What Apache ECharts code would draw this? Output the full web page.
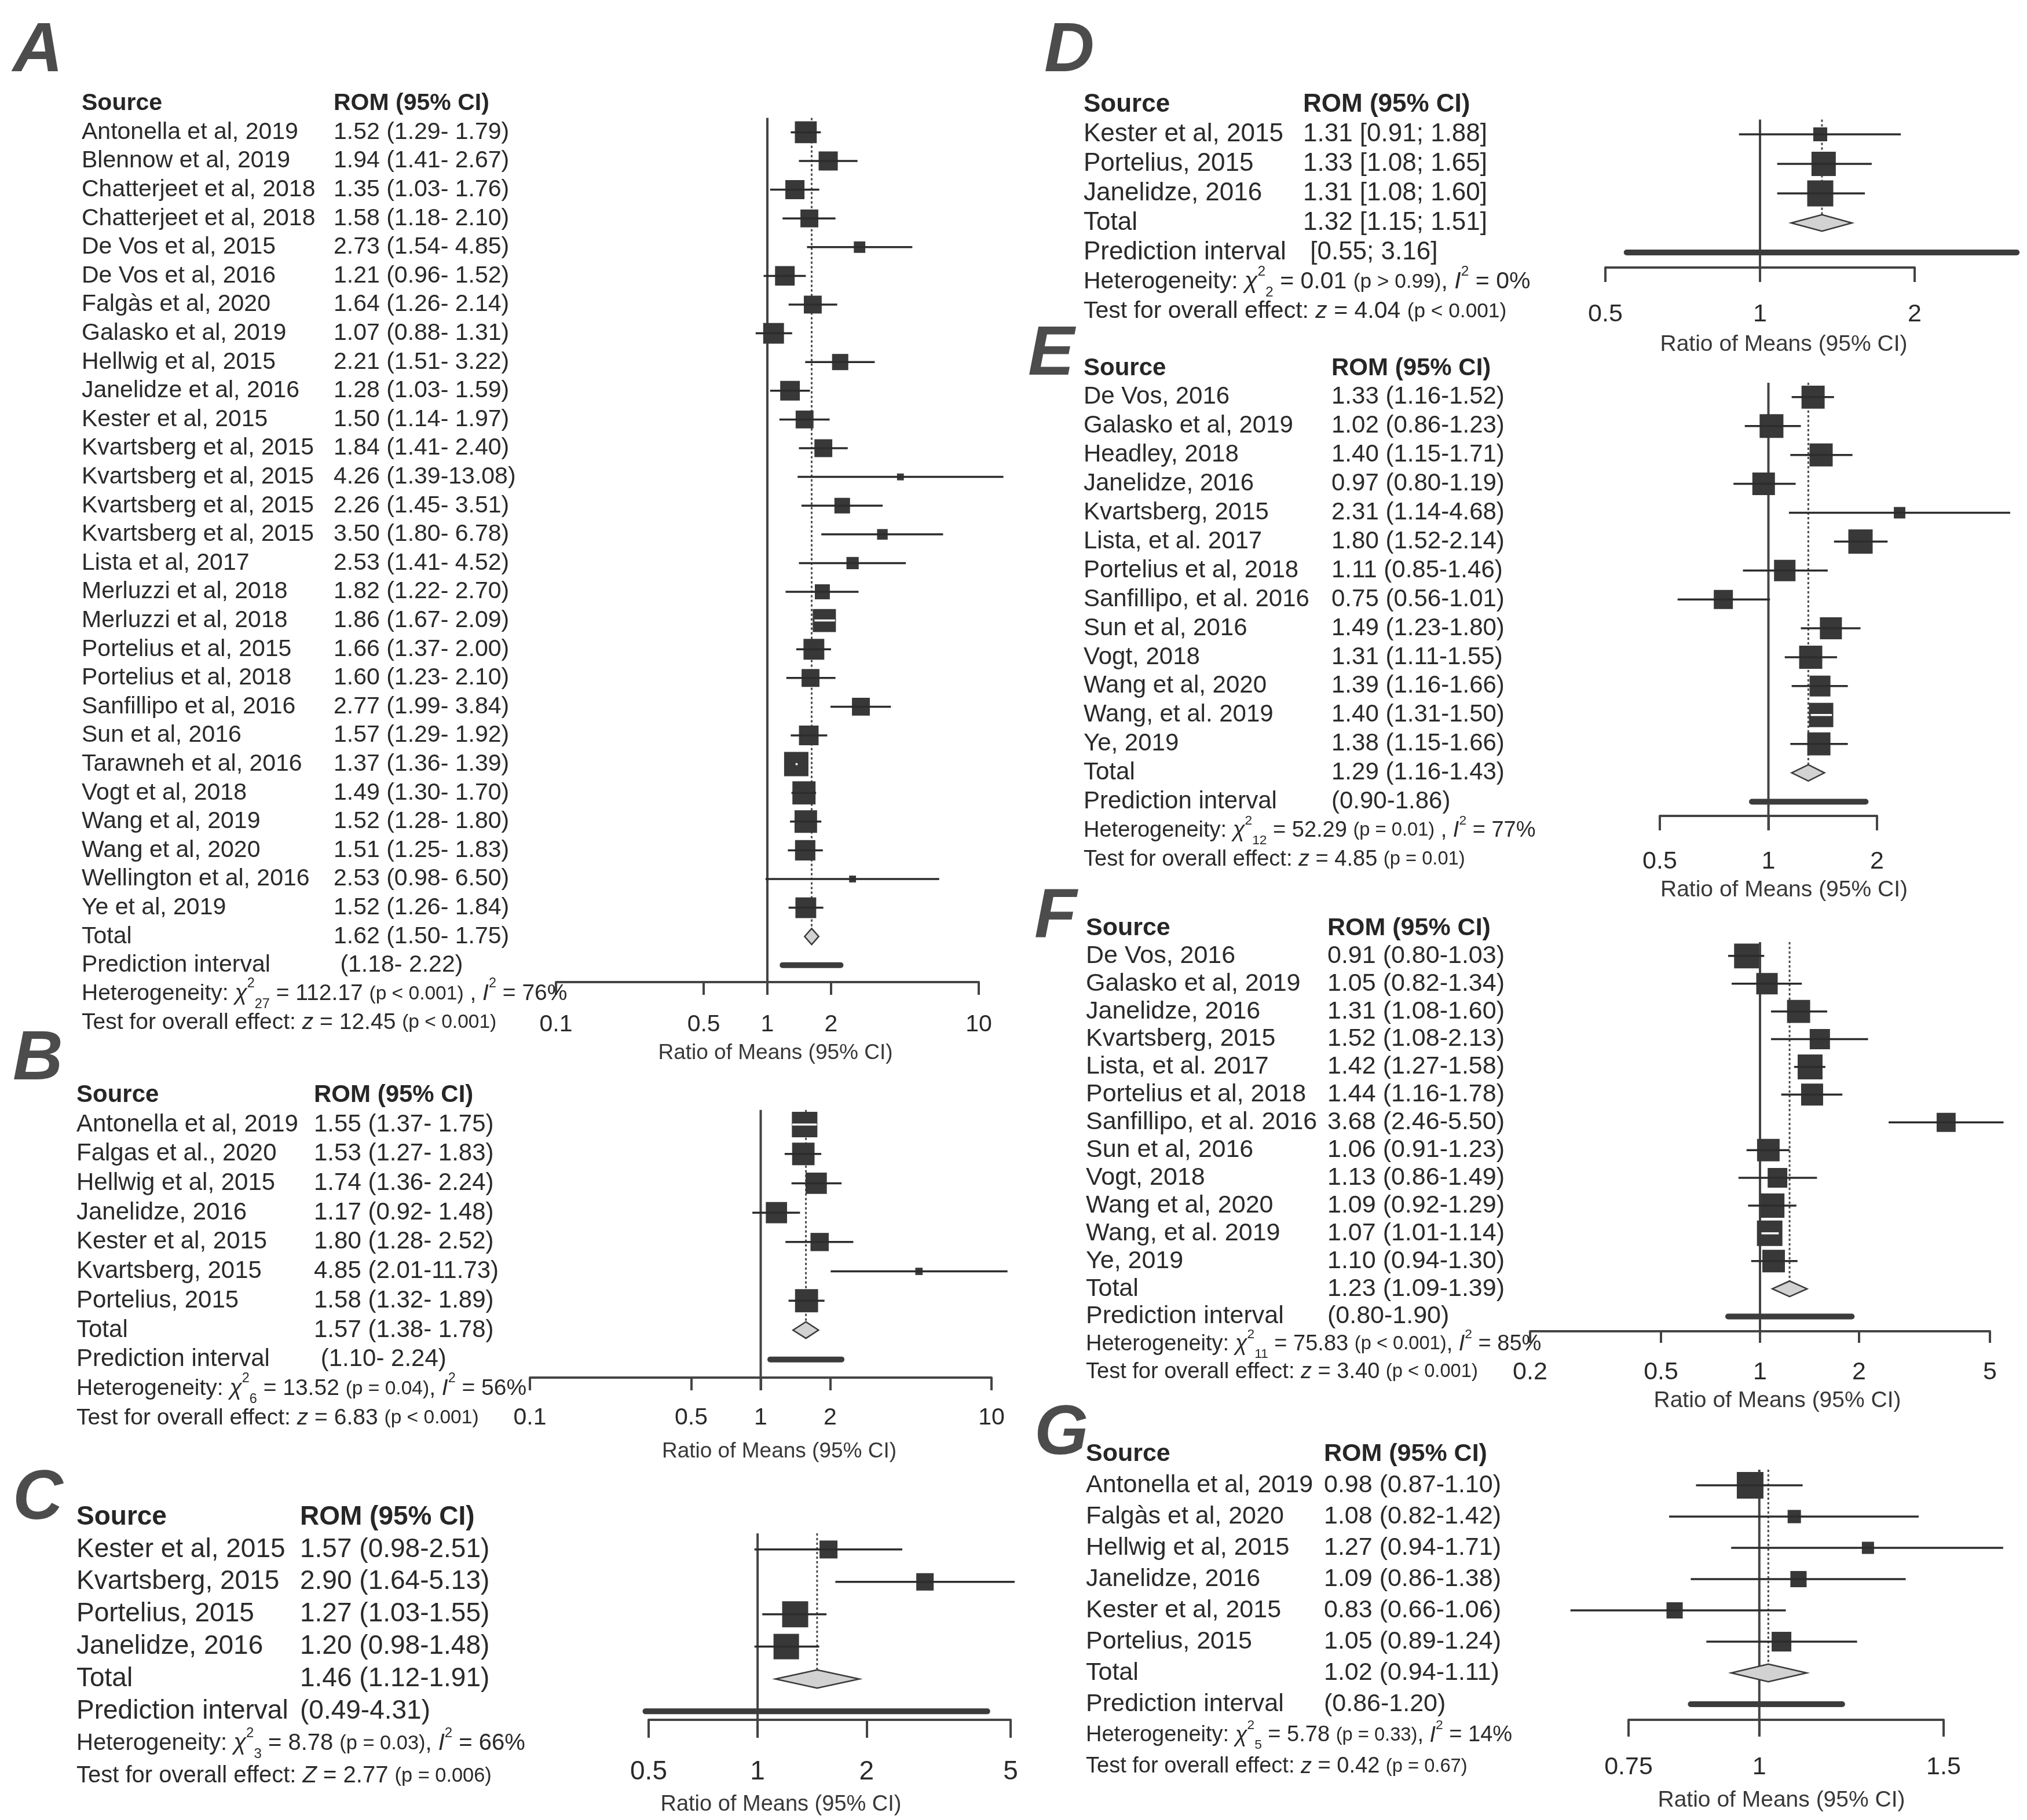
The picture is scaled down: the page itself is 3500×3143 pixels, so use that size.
<!DOCTYPE html>
<html>
<head>
<meta charset="utf-8">
<script src="https://cdn.jsdelivr.net/npm/echarts@6/dist/echarts.min.js"></script>
<style>
html, body { margin: 0; padding: 0; background: #fff; }
#main { width: 3500px; height: 3143px; }
</style>
</head>
<body>
<div id="main"></div>
<script>
// ---- panel A: all studies ----
var aNames = ['Antonella et al, 2019', 'Blennow et al, 2019', 'Chatterjeet et al, 2018', 'Chatterjeet et al, 2018',
  'De Vos et al, 2015', 'De Vos et al, 2016', 'Falgàs et al, 2020', 'Galasko et al, 2019', 'Hellwig et al, 2015',
  'Janelidze et al, 2016', 'Kester et al, 2015', 'Kvartsberg et al, 2015', 'Kvartsberg et al, 2015',
  'Kvartsberg et al, 2015', 'Kvartsberg et al, 2015', 'Lista et al, 2017', 'Merluzzi et al, 2018',
  'Merluzzi et al, 2018', 'Portelius et al, 2015', 'Portelius et al, 2018', 'Sanfillipo et al, 2016',
  'Sun et al, 2016', 'Tarawneh et al, 2016', 'Vogt et al, 2018', 'Wang et al, 2019', 'Wang et al, 2020',
  'Wellington et al, 2016', 'Ye et al, 2019'];
var aEst = [1.52, 1.94, 1.35, 1.58, 2.73, 1.21, 1.64, 1.07, 2.21, 1.28, 1.50, 1.84, 4.26, 2.26, 3.50, 2.53, 1.82, 1.86, 1.66, 1.60, 2.77, 1.57, 1.37, 1.49, 1.52, 1.51, 2.53, 1.52];
var aLo = [1.29, 1.41, 1.03, 1.18, 1.54, 0.96, 1.26, 0.88, 1.51, 1.03, 1.14, 1.41, 1.39, 1.45, 1.80, 1.41, 1.22, 1.67, 1.37, 1.23, 1.99, 1.29, 1.36, 1.30, 1.28, 1.25, 0.98, 1.26];
var aHi = [1.79, 2.67, 1.76, 2.10, 4.85, 1.52, 2.14, 1.31, 3.22, 1.59, 1.97, 2.40, 13.08, 3.51, 6.78, 4.52, 2.70, 2.09, 2.00, 2.10, 3.84, 1.92, 1.39, 1.70, 1.80, 1.83, 6.50, 1.84];
var aWeight = [5.1, 3.9, 3.9, 3.4, 1.4, 4.1, 3.4, 4.6, 2.8, 4.1, 3.4, 3.4, 0.5, 2.6, 1.2, 1.6, 2.4, 5.7, 4.6, 3.4, 3.4, 4.1, 6.3, 5.7, 5.4, 4.4, 0.5, 4.6];
var aTotal = [1.62, 1.50, 1.75];
var aPred = [1.18, 2.22];
var aTicks = [0.1, 0.5, 1, 2, 10];
var aHet = ['27', '112.17', '(p < 0.001)', ' , ', '76%'];
var aTest = ['z', '12.45', '(p < 0.001)'];

// ---- panel B ----
var bNames = ['Antonella et al, 2019', 'Falgas et al., 2020', 'Hellwig et al, 2015', 'Janelidze, 2016',
  'Kester et al, 2015', 'Kvartsberg, 2015', 'Portelius, 2015'];
var bEst = [1.55, 1.53, 1.74, 1.17, 1.80, 4.85, 1.58];
var bLo = [1.37, 1.27, 1.36, 0.92, 1.28, 2.01, 1.32];
var bHi = [1.75, 1.83, 2.24, 1.48, 2.52, 11.73, 1.89];
var bWeight = [21.9, 17.0, 15.2, 15.2, 11.2, 1.8, 17.9];
var bTotal = [1.57, 1.38, 1.78];
var bPred = [1.10, 2.24];
var bTicks = [0.1, 0.5, 1, 2, 10];
var bHet = ['6', '13.52', '(p = 0.04)', ', ', '56%'];
var bTest = ['z', '6.83', '(p < 0.001)'];

// ---- panel C ----
var cNames = ['Kester et al, 2015', 'Kvartsberg, 2015', 'Portelius, 2015', 'Janelidze, 2016'];
var cEst = [1.57, 2.90, 1.27, 1.20];
var cLo = [0.98, 1.64, 1.03, 0.98];
var cHi = [2.51, 5.13, 1.55, 1.48];
var cWeight = [16.5, 15.5, 34.8, 33.3];
var cTotal = [1.46, 1.12, 1.91];
var cPred = [0.49, 4.31];
var cTicks = [0.5, 1, 2, 5];
var cHet = ['3', '8.78', '(p = 0.03)', ', ', '66%'];
var cTest = ['Z', '2.77', '(p = 0.006)'];

// ---- panel D ----
var dNames = ['Kester et al, 2015', 'Portelius, 2015', 'Janelidze, 2016'];
var dEst = [1.31, 1.33, 1.31];
var dLo = [0.91, 1.08, 1.08];
var dHi = [1.88, 1.65, 1.60];
var dWeight = [13.2, 40.4, 46.4];
var dTotal = [1.32, 1.15, 1.51];
var dPred = [0.55, 3.16];
var dTicks = [0.5, 1, 2];
var dHet = ['2', '0.01', '(p > 0.99)', ', ', '0%'];
var dTest = ['z', '4.04', '(p < 0.001)'];

// ---- panel E ----
var eNames = ['De Vos, 2016', 'Galasko et al, 2019', 'Headley, 2018', 'Janelidze, 2016', 'Kvartsberg, 2015',
  'Lista, et al. 2017', 'Portelius et al, 2018', 'Sanfillipo, et al. 2016', 'Sun et al, 2016', 'Vogt, 2018',
  'Wang et al, 2020', 'Wang, et al. 2019', 'Ye, 2019'];
var eEst = [1.33, 1.02, 1.40, 0.97, 2.31, 1.80, 1.11, 0.75, 1.49, 1.31, 1.39, 1.40, 1.38];
var eLo = [1.16, 0.86, 1.15, 0.80, 1.14, 1.52, 0.85, 0.56, 1.23, 1.11, 1.16, 1.31, 1.15];
var eHi = [1.52, 1.23, 1.71, 1.19, 4.68, 2.14, 1.46, 1.01, 1.80, 1.55, 1.66, 1.50, 1.66];
var eWeight = [8.5, 9.0, 8.5, 8.1, 2.1, 9.4, 7.3, 5.8, 7.7, 8.5, 6.9, 9.4, 8.5];
var eTotal = [1.29, 1.16, 1.43];
var ePred = [0.90, 1.86];
var eTicks = [0.5, 1, 2];
var eHet = ['12', '52.29', '(p = 0.01)', ' , ', '77%'];
var eTest = ['z', '4.85', '(p = 0.01)'];

// ---- panel F ----
var fNames = ['De Vos, 2016', 'Galasko et al, 2019', 'Janelidze, 2016', 'Kvartsberg, 2015', 'Lista, et al. 2017',
  'Portelius et al, 2018', 'Sanfillipo, et al. 2016', 'Sun et al, 2016', 'Vogt, 2018', 'Wang et al, 2020',
  'Wang, et al. 2019', 'Ye, 2019'];
var fEst = [0.91, 1.05, 1.31, 1.52, 1.42, 1.44, 3.68, 1.06, 1.13, 1.09, 1.07, 1.10];
var fLo = [0.80, 0.82, 1.08, 1.08, 1.27, 1.16, 2.46, 0.91, 0.86, 0.92, 1.01, 0.94];
var fHi = [1.03, 1.34, 1.60, 2.13, 1.58, 1.78, 5.50, 1.23, 1.49, 1.29, 1.14, 1.30];
var fWeight = [10.1, 7.5, 8.7, 6.7, 10.1, 7.9, 5.9, 8.3, 6.3, 9.6, 10.6, 8.3];
var fTotal = [1.23, 1.09, 1.39];
var fPred = [0.80, 1.90];
var fTicks = [0.2, 0.5, 1, 2, 5];
var fHet = ['11', '75.83', '(p < 0.001)', ', ', '85%'];
var fTest = ['z', '3.40', '(p < 0.001)'];

// ---- panel G ----
var gNames = ['Antonella et al, 2019', 'Falgàs et al, 2020', 'Hellwig et al, 2015', 'Janelidze, 2016',
  'Kester et al, 2015', 'Portelius, 2015'];
var gEst = [0.98, 1.08, 1.27, 1.09, 0.83, 1.05];
var gLo = [0.87, 0.82, 0.94, 0.86, 0.66, 0.89];
var gHi = [1.10, 1.42, 1.71, 1.38, 1.06, 1.24];
var gWeight = [36.4, 9.1, 7.6, 13.5, 13.5, 19.9];
var gTotal = [1.02, 0.94, 1.11];
var gPred = [0.86, 1.20];
var gTicks = [0.75, 1, 1.5];
var gHet = ['5', '5.78', '(p = 0.33)', ', ', '14%'];
var gTest = ['z', '0.42', '(p = 0.67)'];

var TXT = '#2a2a2a', AXIS = '#444444', BOX = '#383838', LINE = '#2c2c2c';
var FONT = '"Liberation Sans", Arial, sans-serif';

// layout of each panel (pixels)
var panels = [
  {letter: 'A', lx: 22, ly: 30, style: 'sp', names: aNames, est: aEst, lo: aLo, hi: aHi, weight: aWeight, total: aTotal, pred: aPred, ticks: aTicks, het: aHet, test: aTest,
    textX: 141, romX: 576, top: 154, pitch: 49.6, left: 960, width: 730, axisY: 1696, tickLen: 22, labelMargin: 53, nameGap: 104, titleShift: 14, fs: 41, ff: 39, tickFs: 41, nameFs: 37, box: 42},
  {letter: 'B', lx: 22, ly: 1771, style: 'sp', names: bNames, est: bEst, lo: bLo, hi: bHi, weight: bWeight, total: bTotal, pred: bPred, ticks: bTicks, het: bHet, test: bTest,
    textX: 132, romX: 542, top: 1866, pitch: 50.7, left: 915, width: 797, axisY: 2379, tickLen: 22, labelMargin: 49, nameGap: 109, titleShift: 32, fs: 42, ff: 39, tickFs: 41, nameFs: 37, box: 44},
  {letter: 'C', lx: 22, ly: 2530, style: 'dash', names: cNames, est: cEst, lo: cLo, hi: cHi, weight: cWeight, total: cTotal, pred: cPred, ticks: cTicks, het: cHet, test: cTest,
    textX: 132, romX: 518, top: 2592, pitch: 55.9, left: 1120, width: 625, axisY: 2970, tickLen: 31, labelMargin: 67, nameGap: 128, titleShift: -84, fs: 46, ff: 40, tickFs: 46, nameFs: 38, box: 45},
  {letter: 'D', lx: 1803, ly: 30, style: 'br', names: dNames, est: dEst, lo: dLo, hi: dHi, weight: dWeight, total: dTotal, pred: dPred, ticks: dTicks, het: dHet, test: dTest,
    textX: 1871, romX: 2250, top: 155.5, pitch: 51, left: 2772, width: 534, axisY: 462, tickLen: 25, labelMargin: 60, nameGap: 114, titleShift: 41, fs: 44, ff: 41, tickFs: 43, nameFs: 39, box: 45},
  {letter: 'E', lx: 1775, ly: 554, style: 'dash', names: eNames, est: eEst, lo: eLo, hi: eHi, weight: eWeight, total: eTotal, pred: ePred, ticks: eTicks, het: eHet, test: eTest,
    textX: 1871, romX: 2299, top: 611, pitch: 49.9, left: 2866, width: 375, axisY: 1409, tickLen: 25, labelMargin: 58, nameGap: 109, titleShift: 27, fs: 42, ff: 38, tickFs: 43, nameFs: 39, box: 42},
  {letter: 'F', lx: 1786, ly: 1525, style: 'dash', names: fNames, est: fEst, lo: fLo, hi: fHi, weight: fWeight, total: fTotal, pred: fPred, ticks: fTicks, het: fHet, test: fTest,
    textX: 1875, romX: 2292, top: 1579, pitch: 47.9, left: 2642, width: 794, axisY: 2299, tickLen: 20, labelMargin: 50, nameGap: 101, titleShift: 30, fs: 43, ff: 38, tickFs: 43, nameFs: 39, box: 44},
  {letter: 'G', lx: 1786, ly: 2418, style: 'dash', names: gNames, est: gEst, lo: gLo, hi: gHi, weight: gWeight, total: gTotal, pred: gPred, ticks: gTicks, het: gHet, test: gTest,
    textX: 1875, romX: 2286, top: 2484, pitch: 54, left: 2812, width: 544, axisY: 2970, tickLen: 29, labelMargin: 61, nameGap: 120, titleShift: -8, fs: 43, ff: 38, tickFs: 43, nameFs: 39, box: 46}
];

function f2(v) { return v.toFixed(2); }
function pad5(s) { return ('     ' + s).slice(-5); }
function rom(style, e, lo, hi) {
  var head = e == null ? (style === 'dash' ? '' : ' ') : f2(e) + ' ';
  if (style === 'sp') return head + '(' + f2(lo) + '-' + pad5(f2(hi)) + ')';
  if (style === 'br') return head + '[' + f2(lo) + '; ' + f2(hi) + ']';
  return head + '(' + f2(lo) + '-' + f2(hi) + ')';
}

function rowTexts(P) {
  var t = ['{hn|Source}{hr|ROM (95% CI)}'];
  P.names.forEach(function (n, i) {
    t.push('{n|' + n + '}{r|' + rom(P.style, P.est[i], P.lo[i], P.hi[i]) + '}');
  });
  t.push('{n|Total}{r|' + rom(P.style, P.total[0], P.total[1], P.total[2]) + '}');
  t.push('{n|Prediction interval}{r|' + rom(P.style, null, P.pred[0], P.pred[1]) + '}');
  var h = P.het;
  t.push('{f|Heterogeneity: }{fi|χ}{sp|2}{sb|' + h[0] + '}{f| = ' + h[1] + ' }{fp|' + h[2] + '}{f|' + h[3] + '}{fi|I}{sp|2}{f| = ' + h[4] + '}');
  var z = P.test;
  t.push('{f|Test for overall effect: }{fi|' + z[0] + '}{f| = ' + z[1] + ' }{fp|' + z[2] + '}');
  return t;
}

var option = {animation: false, backgroundColor: '#fff', title: [], grid: [], xAxis: [], yAxis: [], series: []};

panels.forEach(function (P, k) {
  var n = P.names.length;
  var rows = n + 5;
  var texts = rowTexts(P);
  var gridH = rows * P.pitch;
  var axisOffset = P.axisY - (P.top + gridH);
  var wMax = Math.max.apply(null, P.weight);
  var dh = P.pitch * 0.28;
  var totalRow = n + 1;

  option.title.push({
    text: P.letter, left: P.lx, top: P.ly, padding: 0,
    textStyle: {fontSize: 120, lineHeight: 120, fontWeight: 'bold', fontStyle: 'italic', color: '#4c4c4c', fontFamily: FONT}
  });

  option.grid.push({left: P.left, top: P.top, width: P.width, height: gridH, containLabel: false, outerBoundsMode: 'none'});

  var sh = P.titleShift;
  option.xAxis.push({
    gridIndex: k, type: 'log', logBase: 10, min: P.ticks[0], max: P.ticks[P.ticks.length - 1],
    position: 'bottom', offset: axisOffset,
    axisLine: {show: true, onZero: false, lineStyle: {color: AXIS, width: 4}},
    axisTick: {show: true, length: P.tickLen, customValues: P.ticks, lineStyle: {color: AXIS, width: 4}},
    axisLabel: {show: true, customValues: P.ticks, margin: P.labelMargin, fontSize: P.tickFs, color: TXT, fontFamily: FONT,
      showMinLabel: true, showMaxLabel: true, formatter: function (v) { return String(+(+v).toFixed(2)); }},
    splitLine: {show: false}, minorTick: {show: false}, minorSplitLine: {show: false},
    name: 'Ratio of Means (95% CI)', nameLocation: 'middle', nameGap: P.nameGap,
    nameTextStyle: {fontSize: P.nameFs, color: '#383838', fontFamily: FONT,
      padding: sh >= 0 ? [0, 0, 0, 2 * sh] : [0, -2 * sh, 0, 0]}
  });

  var fsSmall = P.ff * 0.6;
  option.yAxis.push({
    gridIndex: k, type: 'category', inverse: true, boundaryGap: true,
    data: texts.map(function (_, i) { return 'r' + i; }),
    axisLine: {show: false}, axisTick: {show: false}, splitLine: {show: false},
    axisLabel: {
      show: true, interval: 0, align: 'left', margin: P.left - P.textX,
      fontSize: P.fs, color: TXT, fontFamily: FONT,
      formatter: function (v, i) { return texts[i]; },
      rich: {
        n: {width: P.romX - P.textX, fontSize: P.fs, color: TXT, fontFamily: FONT},
        r: {fontSize: P.fs, color: TXT, fontFamily: FONT},
        hn: {width: P.romX - P.textX, fontSize: P.fs, fontWeight: 'bold', color: '#262626', fontFamily: FONT},
        hr: {fontSize: P.fs, fontWeight: 'bold', color: '#262626', fontFamily: FONT},
        f: {fontSize: P.ff, lineHeight: P.ff * 1.5, color: TXT, fontFamily: FONT},
        fi: {fontSize: P.ff, lineHeight: P.ff * 1.5, fontStyle: 'italic', color: TXT, fontFamily: FONT},
        fp: {fontSize: P.ff * 0.86, lineHeight: P.ff * 1.5, color: TXT, fontFamily: FONT},
        sp: {fontSize: fsSmall, lineHeight: fsSmall, verticalAlign: 'top', color: TXT, fontFamily: FONT},
        sb: {fontSize: fsSmall, lineHeight: fsSmall, verticalAlign: 'bottom', color: TXT, fontFamily: FONT}
      }
    }
  });

  // reference line at 1 and dotted line at the pooled estimate
  option.series.push({
    type: 'custom', xAxisIndex: k, yAxisIndex: k, silent: true, z: 1,
    encode: {x: 0, y: 1},
    data: [[1, 1, 0], [P.total[0], 1, 1]],
    renderItem: function (params, api) {
      var cs = params.coordSys;
      var p = api.coord([api.value(0), api.value(1)]);
      var top = p[1] - P.pitch / 2;
      if (api.value(2) === 0) {
        return {type: 'line', shape: {x1: p[0], y1: top, x2: p[0], y2: cs.y + cs.height + axisOffset + P.tickLen},
          style: {stroke: AXIS, lineWidth: 4}};
      }
      var bottom = api.coord([api.value(0), totalRow])[1] - dh;
      return {type: 'line', shape: {x1: p[0], y1: top, x2: p[0], y2: bottom},
        style: {stroke: '#4a4a4a', lineWidth: 3, lineDash: [4, 4]}};
    }
  });

  // individual studies: CI line and weighted square
  option.series.push({
    type: 'custom', xAxisIndex: k, yAxisIndex: k, silent: true, z: 3,
    encode: {x: 0, y: 1},
    data: P.est.map(function (e, i) { return [e, i + 1, P.lo[i], P.hi[i], P.weight[i]]; }),
    renderItem: function (params, api) {
      var row = api.value(1);
      var c = api.coord([api.value(0), row]);
      var a = api.coord([api.value(2), row]);
      var b = api.coord([api.value(3), row]);
      var side = P.box * Math.sqrt(api.value(4) / wMax);
      var inside = (b[0] - a[0]) <= side;
      return {type: 'group', children: [
        {type: 'rect', shape: {x: c[0] - side / 2, y: c[1] - side / 2, width: side, height: side}, style: {fill: BOX}},
        {type: 'line', shape: {x1: a[0], y1: c[1], x2: b[0], y2: c[1]},
          style: {stroke: inside ? '#ffffff' : LINE, lineWidth: 3.5}}
      ]};
    }
  });

  // pooled diamond and prediction interval
  option.series.push({
    type: 'custom', xAxisIndex: k, yAxisIndex: k, silent: true, z: 4,
    encode: {x: 0, y: 1},
    data: [[P.total[0], n + 1, P.total[1], P.total[2], 0], [P.pred[0], n + 2, P.pred[0], P.pred[1], 1]],
    renderItem: function (params, api) {
      var row = api.value(1);
      var c = api.coord([api.value(0), row]);
      var a = api.coord([api.value(2), row]);
      var b = api.coord([api.value(3), row]);
      if (api.value(4) === 0) {
        return {type: 'polygon', shape: {points: [[a[0], c[1]], [c[0], c[1] - dh], [b[0], c[1]], [c[0], c[1] + dh]]},
          style: {fill: '#d2d2d2', stroke: '#3a3a3a', lineWidth: 2.5}};
      }
      return {type: 'line', shape: {x1: a[0], y1: c[1], x2: b[0], y2: c[1]},
        style: {stroke: '#3c3c3c', lineWidth: 10, lineCap: 'round'}};
    }
  });
});

var chart = echarts.init(document.getElementById('main'), null, {renderer: 'canvas', width: 3500, height: 3143});
chart.setOption(option);
</script>
</body>
</html>
